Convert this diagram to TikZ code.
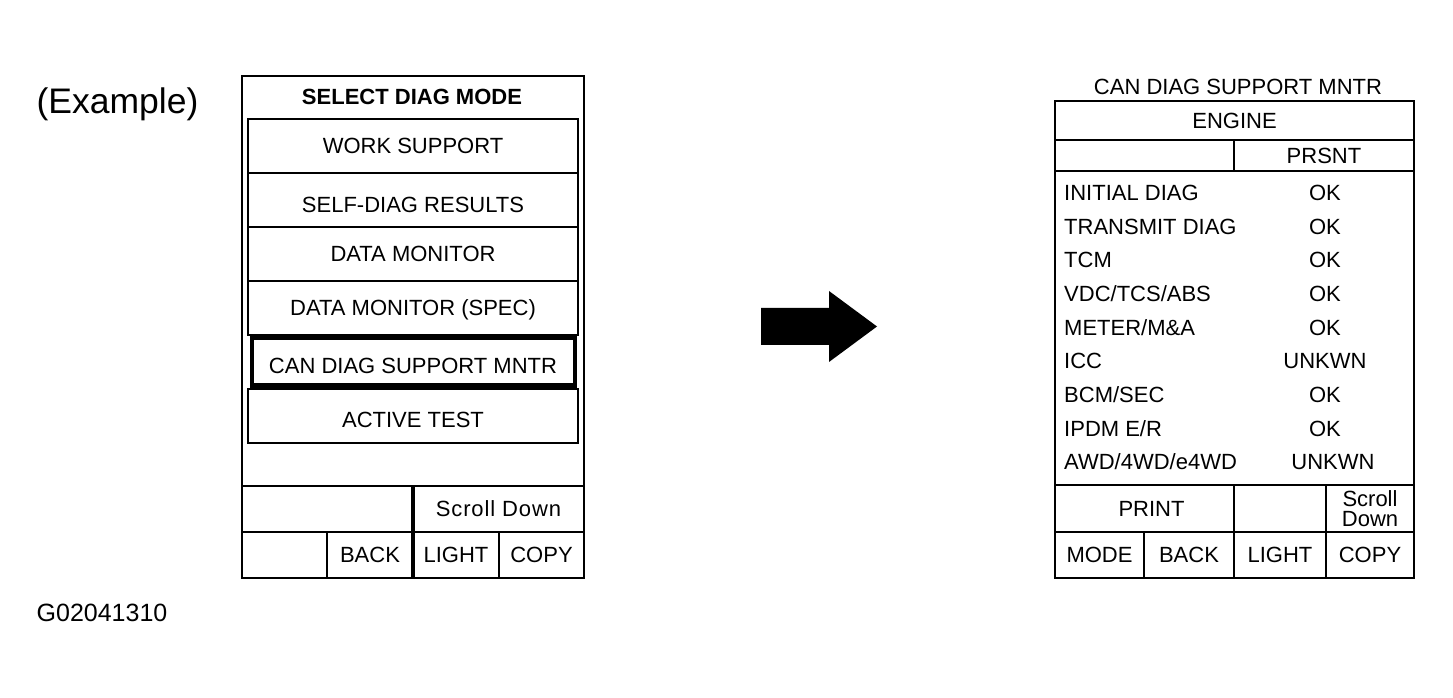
\documentclass[tikz,border=0pt]{standalone}
\usepackage{fontspec}
\setmainfont{Liberation Sans}
\usetikzlibrary{positioning}

\begin{document}
\begin{tikzpicture}[x=1pt,y=1pt,
                    lbl/.style={inner sep=0pt,font=\fontsize{22}{26}\selectfont,
                                text height=15.8pt,text depth=0pt},
                    btn/.style={lbl,rectangle,draw,line width=2pt,outer sep=0pt,
                                minimum width=330pt,minimum height=54pt},
                    key/.style={lbl,rectangle,draw,line width=2.2pt,outer sep=0pt,
                                minimum height=46pt}]

  \useasboundingbox (0,0) rectangle (1453,698);

  %Labels%
  \node[inner sep=0pt,font=\fontsize{35.5}{40}\selectfont] (example) at (117.5,594) {(Example)};
  \node[inner sep=0pt,font=\fontsize{25}{30}\selectfont] (figcode) at (102,85.5) {G02041310};

  %Select diag mode screen%
  \draw[line width=2pt] (242,120) rectangle (584,622);
  \node[lbl,font=\fontsize{22}{26}\selectfont\bfseries] (modetitle) at (412,601) {SELECT DIAG MODE};
  \node[btn] (work) at (413,552) {WORK SUPPORT};
  \node[btn,text height=25.8pt] (selfdiag) [below=0pt of work] {SELF-DIAG RESULTS};
  \node[btn] (datamon) [below=0pt of selfdiag] {DATA MONITOR};
  \node[btn] (spec) [below=0pt of datamon] {DATA MONITOR (SPEC)};
  \node[btn,draw=none,text height=22.8pt] (can) [below=0pt of spec] {CAN DIAG SUPPORT MNTR};
  \node[btn,text height=22.8pt] (active) [below=0pt of can] {ACTIVE TEST};
  \draw[line width=4.5pt] ([xshift=4pt,yshift=-2.5pt]can.north west)
    rectangle ([xshift=-3pt,yshift=3.5pt]can.south east);

  \node[key,minimum width=171pt,anchor=north west] (lblank) at (242,212) {};
  \node[key,minimum width=171pt,font=\fontsize{22}{26}\selectfont\addfontfeature{LetterSpace=4}]
    (lscroll) [right=0pt of lblank] {Scroll Down};
  \node[key,minimum width=85pt,anchor=north west] (lkey) at (242,166) {};
  \node[key,minimum width=86pt] (lback) [right=0pt of lkey] {BACK};
  \node[key,minimum width=86pt] (llight) [right=0pt of lback] {LIGHT};
  \node[key,minimum width=85pt] (lcopy) [right=0pt of llight] {COPY};
  \draw[line width=3.5pt] (lscroll.north west) -- (llight.south west);

  %Arrow%
  \coordinate (tail) at (761,371.5);
  \fill ([yshift=-18.5pt]tail) -- ++(68,0) -- ++(0,-17) -- ++(48,35.5)
    -- ++(-48,35.5) -- ++(0,-17) -- ++(-68,0) -- cycle;

  %CAN diag support monitor screen%
  \node[lbl] (cantitle) at (1238,611) {CAN DIAG SUPPORT MNTR};
  \draw[line width=2.4pt] (1055,120) rectangle (1414,597);
  \node[key,minimum width=359pt,minimum height=39pt,anchor=north west] (engine) at (1055,597) {ENGINE};
  \node[key,minimum width=179pt,minimum height=31pt,anchor=north west] (rblank) at (engine.south west) {};
  \node[key,minimum width=180pt,minimum height=31pt] (prsnt) [right=0pt of rblank] {PRSNT};

  \foreach \unit/\result/\dx [count=\i] in {INITIAL DIAG/OK/0, TRANSMIT DIAG/OK/0, TCM/OK/0,
      VDC\slash TCS\slash ABS/OK/0, METER\slash M\&A/OK/0, ICC/UNKWN/0, BCM\slash SEC/OK/0,
      IPDM E\slash R/OK/0, AWD\slash 4WD\slash e4WD/UNKWN/8}
  {
    \node[lbl,anchor=west] (unit\i) at (1064,{539-33.65*\i}) {\unit};
    \node[lbl] (result\i) at ({1325+\dx},{539-33.65*\i}) {\result};
  }

  \node[key,minimum width=179pt,minimum height=47pt,anchor=north west] (print) at (1055,213) {\hspace*{14pt}PRINT};
  \node[key,minimum width=92pt,minimum height=47pt] (rempty) [right=0pt of print] {};
  \node[rectangle,draw,line width=2.2pt,outer sep=0pt,inner sep=0pt,minimum width=88pt,
        minimum height=47pt,align=center,font=\fontsize{22}{19.5}\selectfont]
    (rscroll) [right=0pt of rempty] {Scroll\\Down};
  \node[key,minimum width=89pt,anchor=north west] (rmode) at (1055,166) {MODE};
  \node[key,minimum width=90pt] (rback) [right=0pt of rmode] {BACK};
  \node[key,minimum width=92pt] (rlight) [right=0pt of rback] {LIGHT};
  \node[key,minimum width=88pt] (rcopy) [right=0pt of rlight] {COPY};
\end{tikzpicture}
\end{document}
